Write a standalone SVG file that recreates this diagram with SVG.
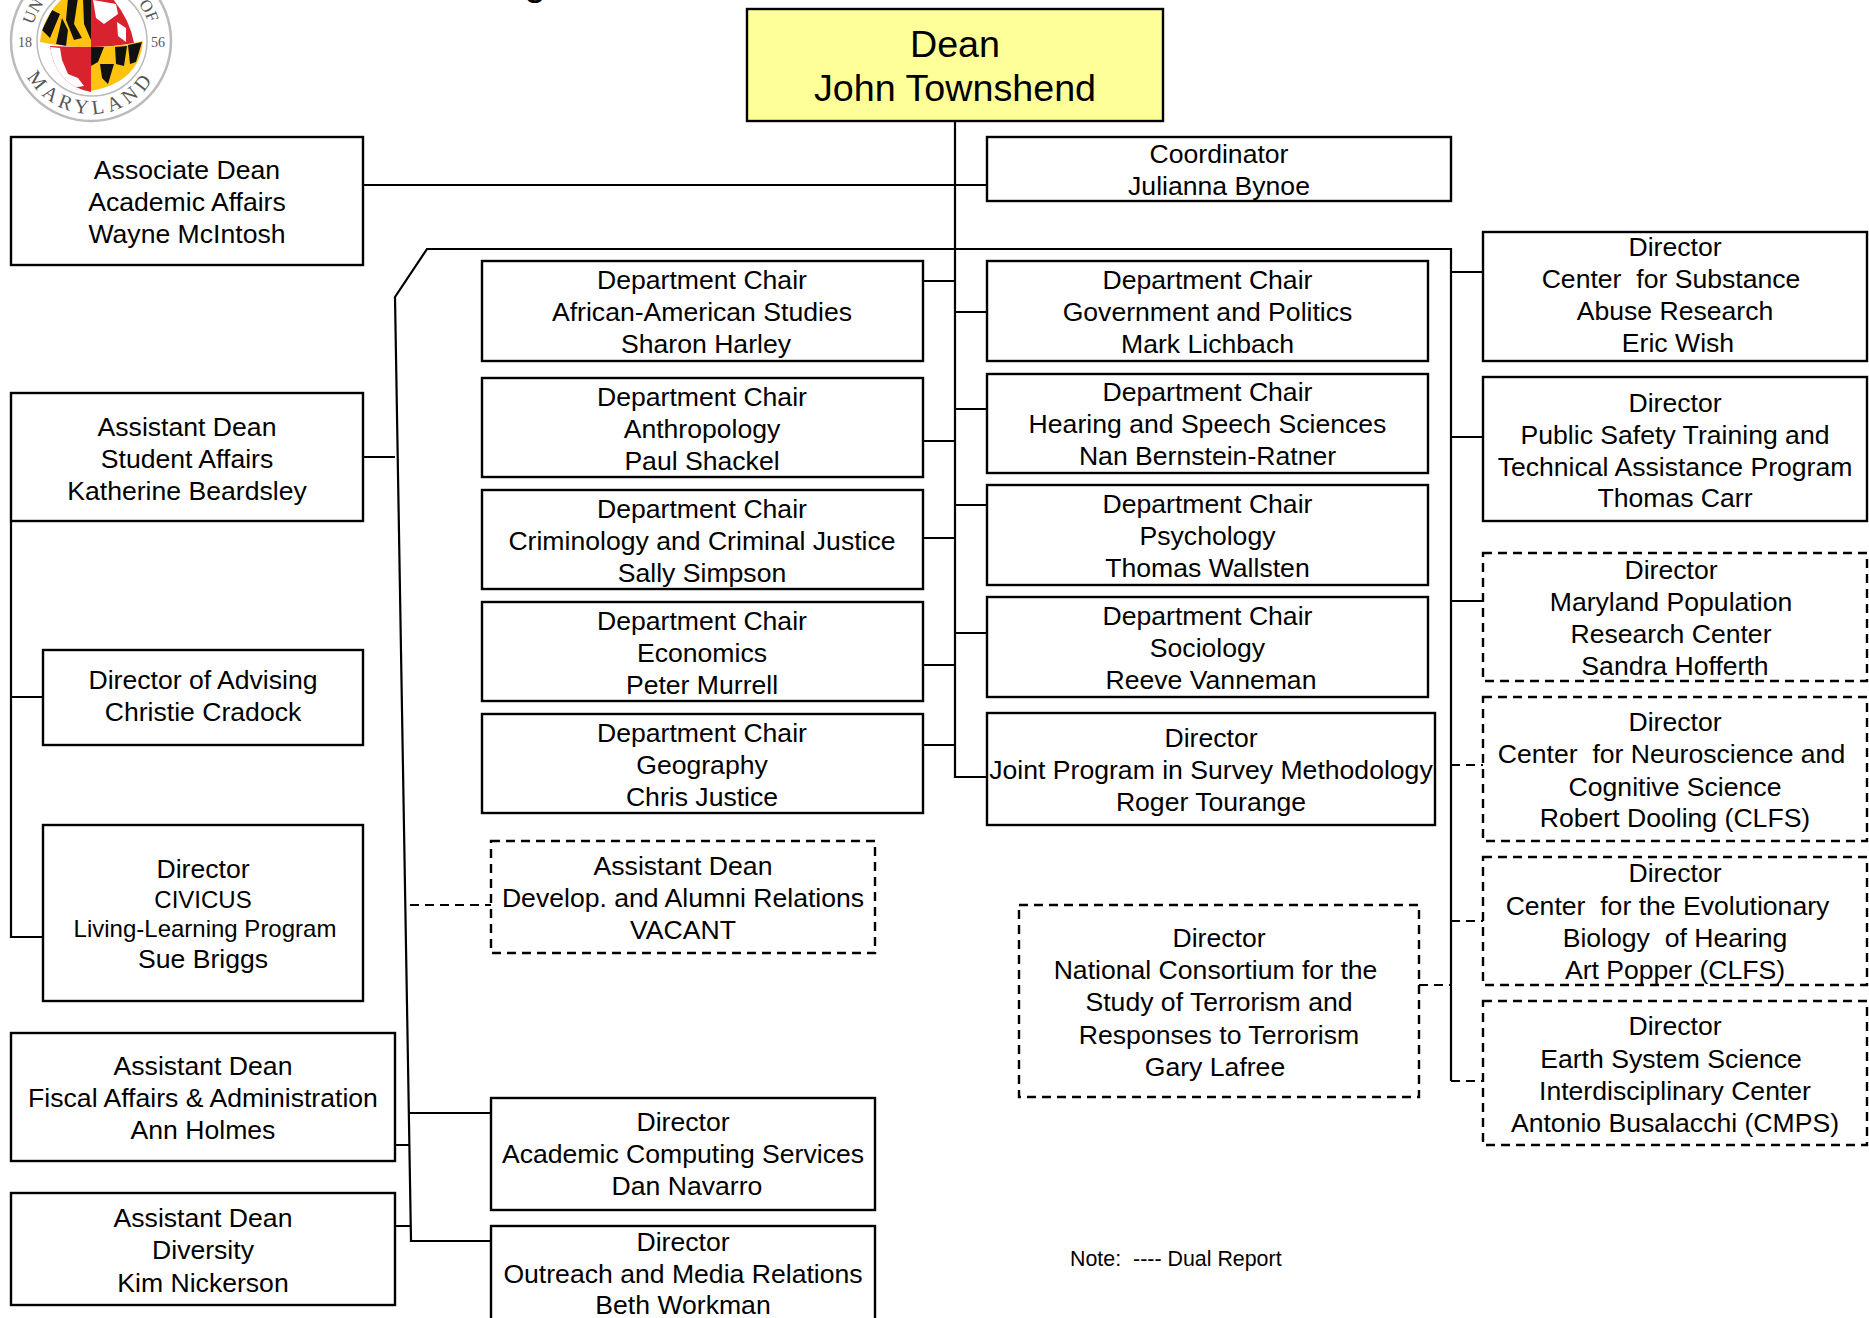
<svg xmlns="http://www.w3.org/2000/svg" width="1869" height="1318" viewBox="0 0 1869 1318">
<style>
text{font-family:"Liberation Sans",Arial,sans-serif;font-size:26.6px;text-anchor:middle;fill:#000;white-space:pre}
.b{fill:#fff;stroke:#000;stroke-width:2.4}
.d{fill:#fff;stroke:#000;stroke-width:2.4;stroke-dasharray:9 6}
.y{fill:#ffff99;stroke:#000;stroke-width:2.4}
.c{fill:none;stroke:#000;stroke-width:2.2}
.k{fill:none;stroke:#000;stroke-width:2.2;stroke-dasharray:9 6}
.s{font-family:"Liberation Serif",serif;fill:#555}
.r{fill:#d8232f}.m{fill:#ffc20f}.n{fill:#111}.w{fill:#fff}
</style>
<defs>
<path id="arcB" d="M18,41 A73,73 0 0 0 164,41"/>
<path id="arcT" d="M31,41 A60,60 0 0 1 151,41"/>
<clipPath id="qtl"><path d="M91,-5 L62,-1 Q42,18 40,42 Q62,47 91,47Z"/></clipPath>
<clipPath id="qtr"><path d="M91,-5 L113,-1 Q130,20 134,43 Q112,47 91,47Z"/></clipPath>
<clipPath id="qbl"><path d="M50,46 Q70,47 91,47 L91,92 Q55,85 50,46Z"/></clipPath>
<clipPath id="qbr"><path d="M91,47 Q120,47 143,41 Q140,82 91,91Z"/></clipPath>
</defs>
<g id="seal">
<circle cx="91" cy="41" r="80" fill="#fff" stroke="#bbb" stroke-width="2.5"/>
<circle cx="92" cy="41" r="55" fill="#fff" stroke="#bbb" stroke-width="1.5"/>
<g clip-path="url(#qtl)"><rect class="m" x="36" y="-6" width="56" height="54"/>
<path class="n" d="M52,10 L60,14 L50,38 L42,30Z M62,18 L68,30 L66,46 L56,44Z M68,-2 L78,-2 L74,24 L82,38 L74,40 L66,20Z M83,-2 L91,-2 L91,40 L84,24Z"/></g>
<g clip-path="url(#qtr)"><rect class="r" x="91" y="-6" width="46" height="54"/>
<path class="w" d="M93,0 L116,4 L118,14 L104,24 L96,18Z M117,22 L126,28 L126,42 L118,36Z"/></g>
<g clip-path="url(#qbl)"><rect class="r" x="48" y="45" width="44" height="48"/>
<path class="w" d="M50,47 L60,48 L62,60 L68,74 L78,78 L84,86 L72,88 L58,78 L52,62Z"/></g>
<g clip-path="url(#qbr)"><rect class="m" x="91" y="40" width="54" height="54"/>
<path class="n" d="M91,47 L104,47 L98,62 L91,66Z M100,64 L114,64 L108,84 L102,78Z M115,47 L127,46 L124,66 L116,64Z M128,45 L142,42 L136,62 L130,64Z"/></g>
<text class="s" x="25" y="47" style="font-size:14px">18</text>
<text class="s" x="158" y="47" style="font-size:14px">56</text>
<text class="s" style="font-size:20px;letter-spacing:5px"><textPath href="#arcB" startOffset="50%">MARYLAND</textPath></text>
<text class="s" style="font-size:17px;text-anchor:start"><textPath href="#arcT" startOffset="16">UN</textPath></text>
<text class="s" style="font-size:17px;text-anchor:end"><textPath href="#arcT" startOffset="170">OF</textPath></text>
</g>
<text id="title-fragment" x="535" y="-5" style="font-size:40px">g</text>
<g id="connectors">
<path class="c" d="M955,121V777H987"/>
<path class="c" d="M363,185H987"/>
<path class="c" d="M1451,1081V249H427L395,297L411,1241H491"/>
<path class="c" d="M923,281H955M923,441H955M923,538H955M923,665H955M923,745H955"/>
<path class="c" d="M955,312H987M955,409H987M955,505H987M955,633H987"/>
<path class="c" d="M1451,272H1483M1451,437H1483M1451,601H1483"/>
<path class="k" d="M1451,765H1483M1451,921H1483M1451,1081H1483M1419,985H1451M410,905H491"/>
<path class="c" d="M363,457H395M11,521V937H43M11,697H43"/>
<path class="c" d="M395,1145H409M409,1113H491M395,1226H411"/>
</g>
<g id="n-dean"><rect class="y" x="747" y="9" width="416" height="112"/><text style="font-size:37.7px" x="955" y="57">Dean</text><text style="font-size:37.7px" x="955" y="101">John Townshend</text></g>
<g id="n-coordinator"><rect class="b" x="987" y="137" width="464" height="64"/><text x="1219" y="163">Coordinator</text><text x="1219" y="195">Julianna Bynoe</text></g>
<g id="n-assoc"><rect class="b" x="11" y="137" width="352" height="128"/><text x="187" y="179">Associate Dean</text><text x="187" y="211">Academic Affairs</text><text x="187" y="243">Wayne McIntosh</text></g>
<g id="n-student"><rect class="b" x="11" y="393" width="352" height="128"/><text x="187" y="436">Assistant Dean</text><text x="187" y="468">Student Affairs</text><text x="187" y="500">Katherine Beardsley</text></g>
<g id="n-advising"><rect class="b" x="43" y="650" width="320" height="95"/><text x="203" y="689">Director of Advising</text><text x="203" y="721">Christie Cradock</text></g>
<g id="n-civicus"><rect class="b" x="43" y="825" width="320" height="176"/><text x="203" y="878">Director</text><text x="203" y="908" style="font-size:24px">CIVICUS</text><text x="205" y="937" style="font-size:24px">Living-Learning Program</text><text x="203" y="968">Sue Briggs</text></g>
<g id="n-fiscal"><rect class="b" x="11" y="1033" width="384" height="128"/><text x="203" y="1075">Assistant Dean</text><text x="203" y="1107">Fiscal Affairs &amp; Administration</text><text x="203" y="1139">Ann Holmes</text></g>
<g id="n-diversity"><rect class="b" x="11" y="1193" width="384" height="112"/><text x="203" y="1227">Assistant Dean</text><text x="203" y="1259">Diversity</text><text x="203" y="1292">Kim Nickerson</text></g>
<g id="n-afam"><rect class="b" x="482" y="261" width="441" height="100"/><text x="702" y="289">Department Chair</text><text x="702" y="321">African-American Studies</text><text x="706" y="353">Sharon Harley</text></g>
<g id="n-anth"><rect class="b" x="482" y="378" width="441" height="99"/><text x="702" y="406">Department Chair</text><text x="702" y="438">Anthropology</text><text x="702" y="470">Paul Shackel</text></g>
<g id="n-crim"><rect class="b" x="482" y="490" width="441" height="99"/><text x="702" y="518">Department Chair</text><text x="702" y="550">Criminology and Criminal Justice</text><text x="702" y="582">Sally Simpson</text></g>
<g id="n-econ"><rect class="b" x="482" y="602" width="441" height="99"/><text x="702" y="630">Department Chair</text><text x="702" y="662">Economics</text><text x="702" y="694">Peter Murrell</text></g>
<g id="n-geog"><rect class="b" x="482" y="714" width="441" height="99"/><text x="702" y="742">Department Chair</text><text x="702" y="774">Geography</text><text x="702" y="806">Chris Justice</text></g>
<g id="n-develop"><rect class="d" x="491" y="841" width="384" height="112"/><text x="683" y="875">Assistant Dean</text><text x="683" y="907">Develop. and Alumni Relations</text><text x="683" y="939">VACANT</text></g>
<g id="n-computing"><rect class="b" x="491" y="1098" width="384" height="112"/><text x="683" y="1131">Director</text><text x="683" y="1163">Academic Computing Services</text><text x="687" y="1195">Dan Navarro</text></g>
<g id="n-outreach"><rect class="b" x="491" y="1226" width="384" height="110"/><text x="683" y="1251">Director</text><text x="683" y="1283">Outreach and Media Relations</text><text x="683" y="1314">Beth Workman</text></g>
<g id="n-gvpt"><rect class="b" x="987" y="261" width="441" height="100"/><text x="1207.500" y="289">Department Chair</text><text x="1207.500" y="321">Government and Politics</text><text x="1207.500" y="353">Mark Lichbach</text></g>
<g id="n-hesp"><rect class="b" x="987" y="374" width="441" height="99"/><text x="1207.500" y="401">Department Chair</text><text x="1207.500" y="433">Hearing and Speech Sciences</text><text x="1207.500" y="465">Nan Bernstein-Ratner</text></g>
<g id="n-psyc"><rect class="b" x="987" y="485" width="441" height="100"/><text x="1207.500" y="513">Department Chair</text><text x="1207.500" y="545">Psychology</text><text x="1207.500" y="577">Thomas Wallsten</text></g>
<g id="n-socy"><rect class="b" x="987" y="597" width="441" height="100"/><text x="1207.500" y="625">Department Chair</text><text x="1207.500" y="657">Sociology</text><text x="1211" y="689">Reeve Vanneman</text></g>
<g id="n-joint"><rect class="b" x="987" y="713" width="448" height="112"/><text x="1211" y="747">Director</text><text x="1211" y="779">Joint Program in Survey Methodology</text><text x="1211" y="811">Roger Tourange</text></g>
<g id="n-terror"><rect class="d" x="1019" y="905" width="400" height="192"/><text x="1219" y="947">Director</text><text x="1215.500" y="979">National Consortium for the</text><text x="1219" y="1011">Study of Terrorism and</text><text x="1219" y="1044">Responses to Terrorism</text><text x="1215" y="1076">Gary Lafree</text></g>
<g id="n-substance"><rect class="b" x="1483" y="232" width="384" height="129"/><text x="1675" y="256">Director</text><text x="1671" y="288">Center  for Substance</text><text x="1675" y="320">Abuse Research</text><text x="1678" y="352">Eric Wish</text></g>
<g id="n-safety"><rect class="b" x="1483" y="377" width="384" height="144"/><text x="1675" y="412">Director</text><text x="1675" y="444">Public Safety Training and</text><text x="1675" y="476">Technical Assistance Program</text><text x="1675" y="507">Thomas Carr</text></g>
<g id="n-population"><rect class="d" x="1483" y="553" width="384" height="128"/><text x="1671" y="579">Director</text><text x="1671" y="611">Maryland Population</text><text x="1671" y="643">Research Center</text><text x="1675" y="675">Sandra Hofferth</text></g>
<g id="n-neuro"><rect class="d" x="1483" y="697" width="384" height="144"/><text x="1675" y="731">Director</text><text x="1671.500" y="763">Center  for Neuroscience and</text><text x="1675" y="796">Cognitive Science</text><text x="1675" y="827">Robert Dooling (CLFS)</text></g>
<g id="n-evol"><rect class="d" x="1483" y="857" width="384" height="128"/><text x="1675" y="882">Director</text><text x="1667.500" y="915">Center  for the Evolutionary</text><text x="1675" y="947">Biology  of Hearing</text><text x="1675" y="979">Art Popper (CLFS)</text></g>
<g id="n-earth"><rect class="d" x="1483" y="1001" width="384" height="144"/><text x="1675" y="1035">Director</text><text x="1671" y="1068">Earth System Science</text><text x="1675" y="1100">Interdisciplinary Center</text><text x="1675" y="1132">Antonio Busalacchi (CMPS)</text></g>
<text id="note" x="1070" y="1266" style="font-size:21.4px;text-anchor:start">Note:  ---- Dual Report</text>
</svg>
